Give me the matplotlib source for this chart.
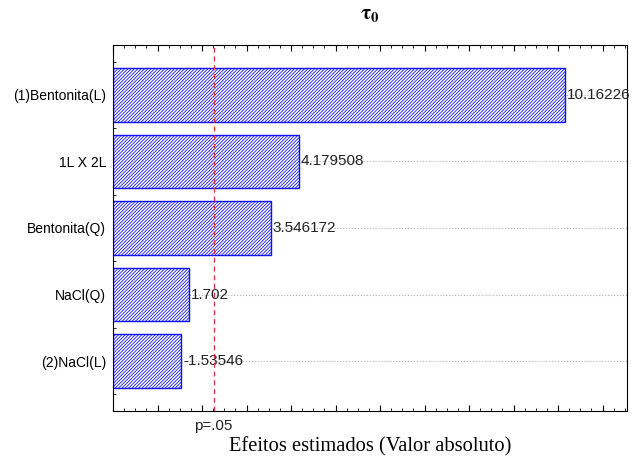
import matplotlib.pyplot as plt
from matplotlib.ticker import MultipleLocator

# dados do gráfico de Pareto
fatores = ['(1)Bentonita(L)', '1L X 2L', 'Bentonita(Q)', 'NaCl(Q)', '(2)NaCl(L)']
efeitos = [10.16226, 4.179508, 3.546172, 1.702, -1.53546]
rotulos = ['10.16226', '4.179508', '3.546172', '1.702', '-1.53546']
p_limite = 2.26

plt.rcParams['hatch.linewidth'] = 0.6
plt.rcParams['font.family'] = ['Liberation Sans', 'DejaVu Sans']
plt.rcParams['mathtext.fontset'] = 'stix'

fig = plt.figure(figsize=(6.38, 4.61), dpi=100)
ax = fig.add_axes([113 / 638, 50 / 461, 514 / 638, 366 / 461])

pos = list(range(len(fatores)))[::-1]
valores = [abs(v) for v in efeitos]

ax.grid(axis='y', color='#b0b0b0', linestyle=':', linewidth=0.8, zorder=0)
ax.barh(pos, valores, height=0.81, color='white', edgecolor='#1010ff',
        hatch='//////////', linewidth=1.0, zorder=2)

for y, v, t in zip(pos, valores, rotulos):
    ax.text(v + 0.04, y, t, va='center', ha='left', fontsize=11,
            color='#222222', zorder=3)

ax.axvline(p_limite, color='#e03030', linestyle=(0, (4, 3)), linewidth=0.9, zorder=4)

ax.set_xlim(0, 11.55)
ax.set_ylim(-0.75, 4.75)
ax.set_yticks(pos)
ax.set_yticklabels(fatores, fontsize=10)
ax.yaxis.set_minor_locator(MultipleLocator(0.5))
ax.xaxis.set_major_locator(MultipleLocator(1))
ax.xaxis.set_minor_locator(MultipleLocator(0.25))
ax.tick_params(axis='x', which='both', direction='in', top=True, labelbottom=False)
ax.tick_params(axis='x', which='major', length=4)
ax.tick_params(axis='x', which='minor', length=2)
ax.tick_params(axis='y', which='major', direction='in', length=4, pad=5)
ax.tick_params(axis='y', which='minor', direction='in', length=2)

ax.text(p_limite, -0.04, 'p=.05', transform=ax.get_xaxis_transform(),
        ha='center', va='center', fontsize=11, color='#222222')
ax.set_xlabel('Efeitos estimados (Valor absoluto)', fontsize=14.8,
              family='Liberation Serif', labelpad=19)
ax.set_title(r'$\mathbf{\tau_0}$', fontsize=15, pad=19)

fig.savefig('out.png', dpi=100)
